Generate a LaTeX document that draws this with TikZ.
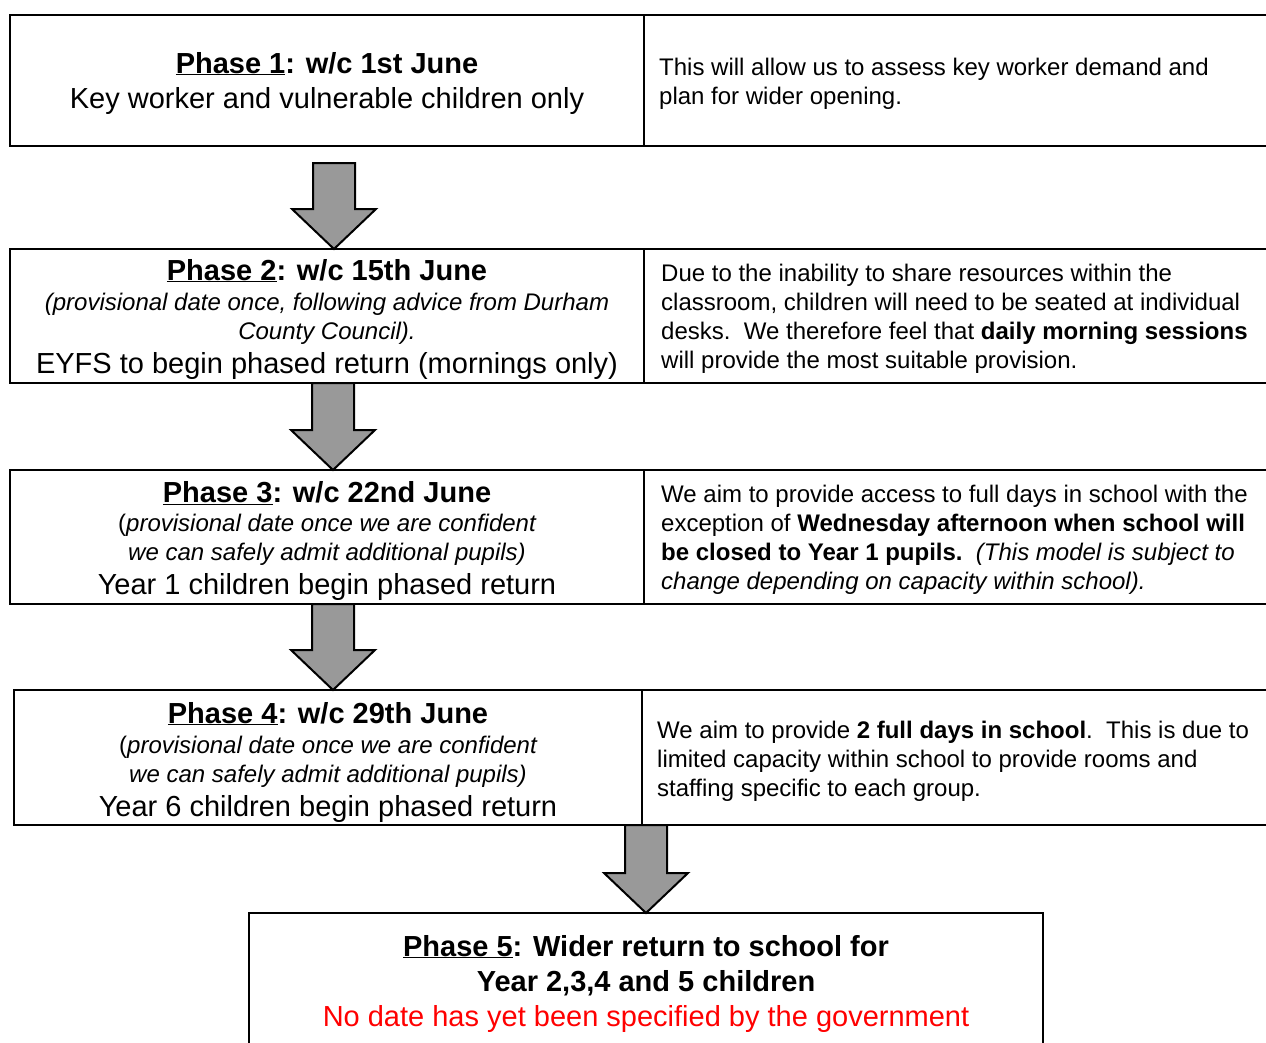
\documentclass[tikz,border=0pt]{standalone}
\usepackage{fontspec}
\setmainfont{Liberation Sans}
\usetikzlibrary{calc}
\definecolor{arrowgray}{RGB}{153,153,153}
\definecolor{nodate}{RGB}{255,0,0}
\tikzset{
  box/.style={draw=black, line width=2pt, anchor=north west, inner sep=0pt, outer sep=0pt},
  big/.style={anchor=base, inner sep=0pt, font=\fontsize{29}{35}\selectfont},
  note/.style={anchor=base, inner sep=0pt, font=\fontsize{24}{29}\selectfont\itshape},
  side/.style={anchor=base west, inner sep=0pt, font=\fontsize{24}{29}\selectfont},
  barrow/.style={draw=black, line width=2pt, fill=arrowgray, line join=miter},
}
\newcommand{\blockarrow}[2]{%
  \draw[barrow] let \p1=(#1), \p2=(#2) in
    (\x1-21pt,\y1) -- (\x1+21pt,\y1) -- (\x1+21pt,\y2+40pt) -- (\x1+42pt,\y2+40pt)
    -- (\x2,\y2) -- (\x1-42pt,\y2+40pt) -- (\x1-21pt,\y2+40pt) -- cycle;}
\begin{document}
\begin{tikzpicture}[x=1pt,y=-1pt]
\useasboundingbox (0,0) rectangle (1266,1042);
\clip (0,0) rectangle (1266,1042);
% boxes
\node[box, minimum width=634pt, minimum height=131pt] (p1) at (10,15) {};
\node[box, minimum width=650pt, minimum height=131pt] (d1) at (644,15) {};
\node[box, minimum width=634pt, minimum height=134pt] (p2) at (10,249) {};
\node[box, minimum width=650pt, minimum height=134pt] (d2) at (644,249) {};
\node[box, minimum width=634pt, minimum height=134pt] (p3) at (10,470) {};
\node[box, minimum width=650pt, minimum height=134pt] (d3) at (644,470) {};
\node[box, minimum width=628pt, minimum height=135pt] (p4) at (14,690) {};
\node[box, minimum width=650pt, minimum height=135pt] (d4) at (642,690) {};
\node[box, minimum width=794pt, minimum height=160pt] (p5) at (249,913) {};
% phase 1
\node[big] (p1a) at (327,73) {\bfseries\underline{Phase 1}: w/c 1st June};
\node[big] (p1b) at (327,108) {Key worker and vulnerable children only};
\node[side] (d1a) at (659,75) {This will allow us to assess key worker demand and};
\node[side] (d1b) at (659,104) {plan for wider opening.};
% phase 2
\node[big] (p2a) at (327,280) {\bfseries\underline{Phase 2}: w/c 15th June};
\node[note] (p2b) at (327,310) {(provisional date once, following advice from Durham};
\node[note] (p2c) at (327,339) {County Council).};
\node[big] (p2d) at (327,373) {EYFS to begin phased return (mornings only)};
\node[side] (d2a) at (661,281) {Due to the inability to share resources within the};
\node[side] (d2b) at (661,310) {classroom, children will need to be seated at individual};
\node[side] (d2c) at (661,339) {desks.\ \ We therefore feel that \textbf{daily morning sessions}};
\node[side] (d2d) at (661,368) {will provide the most suitable provision.};
% phase 3
\node[big] (p3a) at (327,502) {\bfseries\underline{Phase 3}: w/c 22nd June};
\node[note] (p3b) at (327,531) {\upshape(\itshape provisional date once we are confident};
\node[note] (p3c) at (327,560) {we can safely admit additional pupils)};
\node[big] (p3d) at (327,594) {Year 1 children begin phased return};
\node[side] (d3a) at (661,502) {We aim to provide access to full days in school with the};
\node[side] (d3b) at (661,531) {exception of \textbf{Wednesday afternoon when school will}};
\node[side] (d3c) at (661,560) {\textbf{be closed to Year 1 pupils.}\ \ \textit{(This model is subject to}};
\node[side] (d3d) at (661,589) {\textit{change depending on capacity within school).}};
% phase 4
\node[big] (p4a) at (328,723) {\bfseries\underline{Phase 4}: w/c 29th June};
\node[note] (p4b) at (328,753) {\upshape(\itshape provisional date once we are confident};
\node[note] (p4c) at (328,782) {we can safely admit additional pupils)};
\node[big] (p4d) at (328,816) {Year 6 children begin phased return};
\node[side] (d4a) at (657,738) {We aim to provide \textbf{2 full days in school}.\ \ This is due to};
\node[side] (d4b) at (657,767) {limited capacity within school to provide rooms and};
\node[side] (d4c) at (657,796) {staffing specific to each group.};
% phase 5
\node[big] (p5a) at (646,956) {\bfseries\underline{Phase 5}: Wider return to school for};
\node[big] (p5b) at (646,991) {\bfseries Year 2,3,4 and 5 children};
\node[big, text=nodate] (p5c) at (646,1026) {No date has yet been specified by the government};
% arrows
\coordinate (a1s) at (334,163);
\coordinate (a1e) at (334,249);
\coordinate (a2s) at (333,383);
\coordinate (a2e) at (333,470);
\coordinate (a3s) at (333,604);
\coordinate (a3e) at (333,690);
\coordinate (a4s) at (646,825);
\coordinate (a4e) at (646,913);
\blockarrow{a1s}{a1e}
\blockarrow{a2s}{a2e}
\blockarrow{a3s}{a3e}
\blockarrow{a4s}{a4e}
\end{tikzpicture}
\end{document}
